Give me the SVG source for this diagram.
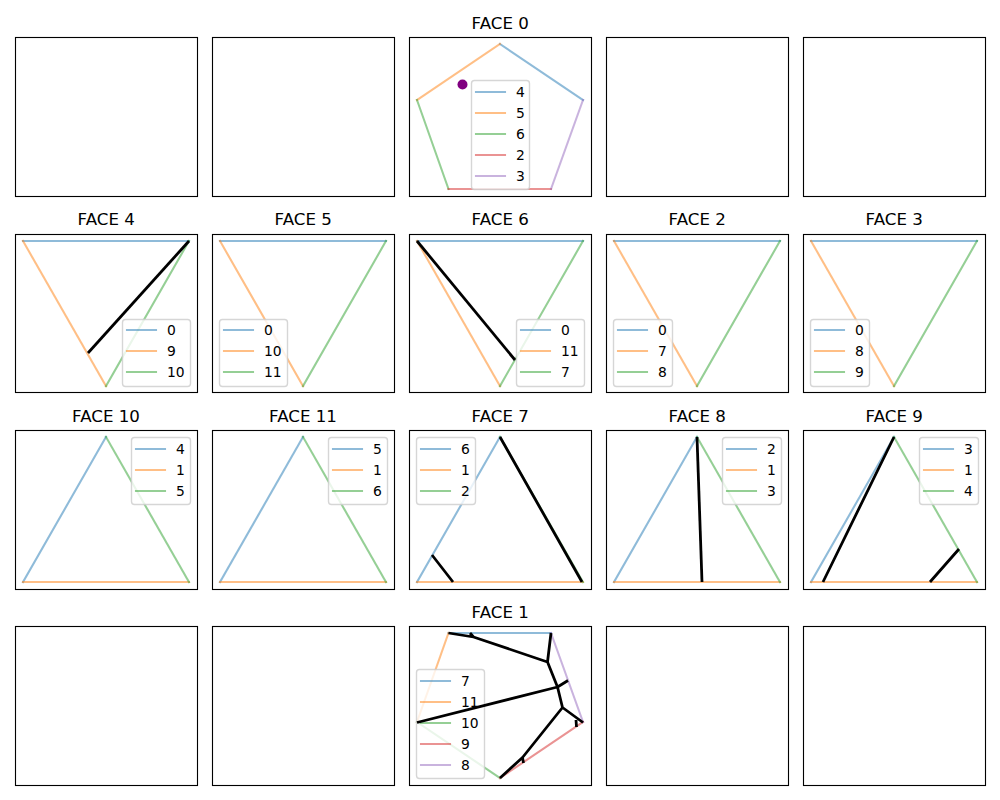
<svg xmlns="http://www.w3.org/2000/svg" width="1000" height="800" viewBox="0 0 1000 800">
<style>
text{font-family:"DejaVu Sans",sans-serif;fill:#000}
.t{font-size:16.67px;text-anchor:middle}
.l{font-size:13.89px}
.ax{fill:#fff;stroke:#000;stroke-width:1.11}
.lg{fill:#fff;fill-opacity:.8;stroke:#ccc;stroke-opacity:.8;stroke-width:1.39}
.b,.o,.g,.r,.p{fill:none;stroke-width:2.08;stroke-opacity:.5;stroke-linecap:square}
.b{stroke:#1f77b4}.o{stroke:#ff7f0e}.g{stroke:#2ca02c}.r{stroke:#d62728}.p{stroke:#9467bd}
.k{fill:none;stroke:#000;stroke-width:2.78;stroke-linecap:butt;stroke-linejoin:round}
</style>
<rect width="1000" height="800" fill="#fff"/>
<g id="panel-0-0"><rect class="ax" x="15.5" y="37.5" width="182" height="159"/></g>
<g id="panel-0-1"><rect class="ax" x="212.5" y="37.5" width="182" height="159"/></g>
<g id="face-0"><rect class="ax" x="409.5" y="37.5" width="182" height="159"/>
<text class="t" x="500.2" y="29">FACE 0</text>
<path class="b" d="M500 44L583 100"/><path class="o" d="M500 44L417 100"/><path class="g" d="M417 100L448.5 189"/><path class="r" d="M448.5 189L551 189"/><path class="p" d="M551 189L583 100"/>
<circle cx="462.5" cy="84.5" r="5" fill="#800080"/>
<rect class="lg" x="471.5" y="80.5" width="58" height="109" rx="3"/>
<path class="b" d="M476 92H505"/><path class="o" d="M476 113H505"/><path class="g" d="M476 134H505"/><path class="r" d="M476 155H505"/><path class="p" d="M476 176H505"/>
<text class="l" x="516" y="97">4</text><text class="l" x="516" y="118">5</text><text class="l" x="516" y="139">6</text><text class="l" x="516" y="160">2</text><text class="l" x="516" y="181">3</text></g>
<g id="panel-0-3"><rect class="ax" x="606.5" y="37.5" width="182" height="159"/></g>
<g id="panel-0-4"><rect class="ax" x="803.5" y="37.5" width="182" height="159"/></g>

<g id="face-4"><rect class="ax" x="15.5" y="234.5" width="182" height="158"/>
<text class="t" x="106.2" y="225">FACE 4</text>
<path class="b" d="M23 241H189"/><path class="o" d="M23 241L106 386"/><path class="g" d="M106 386L189 241"/>
<rect class="lg" x="122.5" y="319.5" width="68" height="67" rx="3"/>
<path class="b" d="M127 330H156"/><path class="o" d="M127 351H156"/><path class="g" d="M127 372H156"/>
<text class="l" x="167" y="335">0</text><text class="l" x="167" y="356">9</text><text class="l" x="167" y="377">10</text>
<path class="k" d="M88 353L189 241"/></g>
<g id="face-5"><rect class="ax" x="212.5" y="234.5" width="182" height="158"/>
<text class="t" x="303.2" y="225">FACE 5</text>
<path class="b" d="M220 241H386"/><path class="o" d="M220 241L303 386"/><path class="g" d="M303 386L386 241"/>
<rect class="lg" x="219.5" y="319.5" width="68" height="67" rx="3"/>
<path class="b" d="M224 330H253"/><path class="o" d="M224 351H253"/><path class="g" d="M224 372H253"/>
<text class="l" x="264" y="335">0</text><text class="l" x="264" y="356">10</text><text class="l" x="264" y="377">11</text></g>
<g id="face-6"><rect class="ax" x="409.5" y="234.5" width="182" height="158"/>
<text class="t" x="500.2" y="225">FACE 6</text>
<path class="b" d="M417 241H583"/><path class="o" d="M417 241L500 386"/><path class="g" d="M500 386L583 241"/>
<rect class="lg" x="516.5" y="319.5" width="68" height="67" rx="3"/>
<path class="b" d="M521 330H550"/><path class="o" d="M521 351H550"/><path class="g" d="M521 372H550"/>
<text class="l" x="561" y="335">0</text><text class="l" x="561" y="356">11</text><text class="l" x="561" y="377">7</text>
<path class="k" d="M417 241L515 360"/></g>
<g id="face-2"><rect class="ax" x="606.5" y="234.5" width="182" height="158"/>
<text class="t" x="697.2" y="225">FACE 2</text>
<path class="b" d="M614 241H780"/><path class="o" d="M614 241L697 386"/><path class="g" d="M697 386L780 241"/>
<rect class="lg" x="613.5" y="319.5" width="59" height="67" rx="3"/>
<path class="b" d="M618 330H647"/><path class="o" d="M618 351H647"/><path class="g" d="M618 372H647"/>
<text class="l" x="658" y="335">0</text><text class="l" x="658" y="356">7</text><text class="l" x="658" y="377">8</text></g>
<g id="face-3"><rect class="ax" x="803.5" y="234.5" width="182" height="158"/>
<text class="t" x="894.2" y="225">FACE 3</text>
<path class="b" d="M811 241H977"/><path class="o" d="M811 241L894 386"/><path class="g" d="M894 386L977 241"/>
<rect class="lg" x="810.5" y="319.5" width="59" height="67" rx="3"/>
<path class="b" d="M815 330H844"/><path class="o" d="M815 351H844"/><path class="g" d="M815 372H844"/>
<text class="l" x="855" y="335">0</text><text class="l" x="855" y="356">8</text><text class="l" x="855" y="377">9</text></g>

<g id="face-10"><rect class="ax" x="15.5" y="430.5" width="182" height="159"/>
<text class="t" x="106.0" y="422">FACE 10</text>
<path class="b" d="M23 582L106 437"/><path class="o" d="M23 582H189"/><path class="g" d="M106 437L189 582"/>
<rect class="lg" x="131.5" y="437.5" width="59" height="67" rx="3"/>
<path class="b" d="M136 449H165"/><path class="o" d="M136 470H165"/><path class="g" d="M136 491H165"/>
<text class="l" x="176" y="454">4</text><text class="l" x="176" y="475">1</text><text class="l" x="176" y="496">5</text></g>
<g id="face-11"><rect class="ax" x="212.5" y="430.5" width="182" height="159"/>
<text class="t" x="303.0" y="422">FACE 11</text>
<path class="b" d="M220 582L303 437"/><path class="o" d="M220 582H386"/><path class="g" d="M303 437L386 582"/>
<rect class="lg" x="328.5" y="437.5" width="59" height="67" rx="3"/>
<path class="b" d="M333 449H362"/><path class="o" d="M333 470H362"/><path class="g" d="M333 491H362"/>
<text class="l" x="373" y="454">5</text><text class="l" x="373" y="475">1</text><text class="l" x="373" y="496">6</text></g>
<g id="face-7"><rect class="ax" x="409.5" y="430.5" width="182" height="159"/>
<text class="t" x="500.2" y="422">FACE 7</text>
<path class="b" d="M417 582L500 437"/><path class="o" d="M417 582H583"/><path class="g" d="M500 437L583 582"/>
<rect class="lg" x="416.5" y="437.5" width="59" height="67" rx="3"/>
<path class="b" d="M421 449H450"/><path class="o" d="M421 470H450"/><path class="g" d="M421 491H450"/>
<text class="l" x="461" y="454">6</text><text class="l" x="461" y="475">1</text><text class="l" x="461" y="496">2</text>
<path class="k" d="M500 437L582 582M432 555L453 582"/></g>
<g id="face-8"><rect class="ax" x="606.5" y="430.5" width="182" height="159"/>
<text class="t" x="697.2" y="422">FACE 8</text>
<path class="b" d="M614 582L697 437"/><path class="o" d="M614 582H780"/><path class="g" d="M697 437L780 582"/>
<rect class="lg" x="722.5" y="437.5" width="59" height="67" rx="3"/>
<path class="b" d="M727 449H756"/><path class="o" d="M727 470H756"/><path class="g" d="M727 491H756"/>
<text class="l" x="767" y="454">2</text><text class="l" x="767" y="475">1</text><text class="l" x="767" y="496">3</text>
<path class="k" d="M697 437L702 582"/></g>
<g id="face-9"><rect class="ax" x="803.5" y="430.5" width="182" height="159"/>
<text class="t" x="894.2" y="422">FACE 9</text>
<path class="b" d="M811 582L894 437"/><path class="o" d="M811 582H977"/><path class="g" d="M894 437L977 582"/>
<rect class="lg" x="919.5" y="437.5" width="59" height="67" rx="3"/>
<path class="b" d="M924 449H953"/><path class="o" d="M924 470H953"/><path class="g" d="M924 491H953"/>
<text class="l" x="964" y="454">3</text><text class="l" x="964" y="475">1</text><text class="l" x="964" y="496">4</text>
<path class="k" d="M894 437L823 582M959 549L930 582"/></g>

<g id="panel-3-0"><rect class="ax" x="15.5" y="626.5" width="182" height="159"/></g>
<g id="panel-3-1"><rect class="ax" x="212.5" y="626.5" width="182" height="159"/></g>
<g id="face-1"><rect class="ax" x="409.5" y="626.5" width="182" height="159"/>
<text class="t" x="500.2" y="618">FACE 1</text>
<path class="b" d="M448.5 633H551"/><path class="o" d="M448.5 633L417 722"/><path class="g" d="M417 722L500 778"/><path class="r" d="M500 778L583 722"/><path class="p" d="M583 722L551 633"/>
<rect class="lg" x="416.5" y="669.5" width="68" height="109" rx="3"/>
<path class="b" d="M421 681H450"/><path class="o" d="M421 702H450"/><path class="g" d="M421 723H450"/><path class="r" d="M421 744H450"/><path class="p" d="M421 765H450"/>
<text class="l" x="461" y="686">7</text><text class="l" x="461" y="707">11</text><text class="l" x="461" y="728">10</text><text class="l" x="461" y="749">9</text><text class="l" x="461" y="770">8</text>
<path class="k" d="M448.5 633L473.5 637L547.5 662L551 633M470 633L473.5 637M547.5 662L557.5 687L562.5 707.5L583 722.5M417 722.5L557.5 687L568 680.5M576 720L576.5 727M562.5 707.5L522.5 757.5L500 778M522.5 757.5L523.5 763"/></g>
<g id="panel-3-3"><rect class="ax" x="606.5" y="626.5" width="182" height="159"/></g>
<g id="panel-3-4"><rect class="ax" x="803.5" y="626.5" width="182" height="159"/></g>
</svg>
